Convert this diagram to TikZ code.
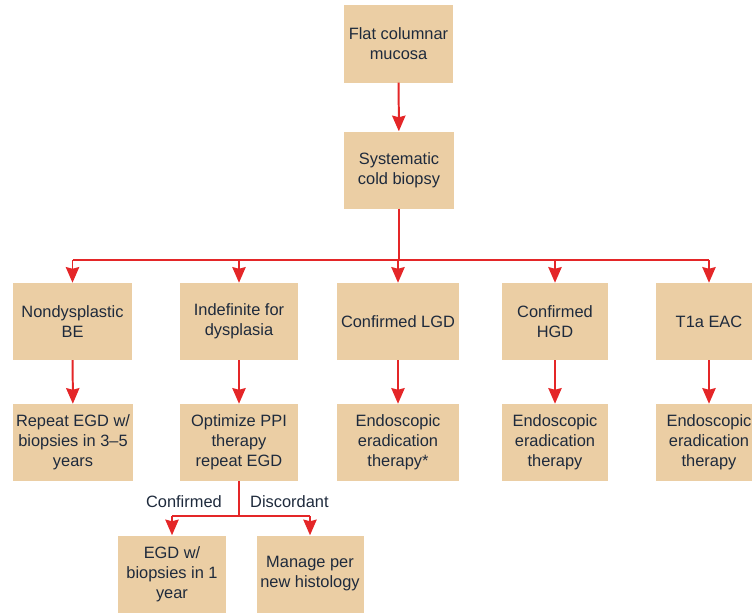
\documentclass[tikz,border=0pt]{standalone}
\usepackage{fontspec}
\setmainfont{Liberation Sans}
\usetikzlibrary{arrows.meta}
\definecolor{boxtan}{RGB}{235,206,164}
\definecolor{flowred}{RGB}{228,38,40}
\definecolor{txtnavy}{RGB}{30,42,60}

\begin{document}
\begin{tikzpicture}[x=0.03cm,y=-0.03cm,
    box/.style={fill=boxtan,text=txtnavy,align=center,inner sep=0pt,
        font=\fontsize{14}{17}\selectfont,minimum height=2.31cm,minimum width=#1},
    box/.default=3.57cm,
    lbl/.style={text=txtnavy,font=\fontsize{14}{17}\selectfont,inner sep=0pt},
    wire/.style={draw=flowred,line width=1.7pt},
    flow/.style={wire,-{Stealth[width=0.4cm,length=0.47cm,inset=0.05cm]}}]
    \clip (0,0) rectangle (752,614);
    % top of the tree
    \node[box=3.27cm] (flat) at (398.5,44) {Flat columnar\\mucosa};
    \node[box=3.30cm] (syst) at (399,170) {Systematic\\cold biopsy};
    % first row
    \node[box] (nond) at (72.5,321.5) {Nondysplastic\\BE};
    \node[box=3.54cm] (indef) at (239,321.5) {Indefinite for\\dysplasia};
    \node[box=3.66cm] (lgd) at (398,321.5) {Confirmed LGD};
    \node[box=3.18cm] (hgd) at (555,321.5) {Confirmed\\HGD};
    \node[box=3.18cm] (eac) at (709,321.5) {T1a EAC};
    % second row
    \node[box=3.60cm] (repeat) at (73,442.5) {Repeat EGD w/\\biopsies in 3--5\\years};
    \node[box=3.54cm] (ppi) at (239,442.5) {Optimize PPI\\therapy\\repeat EGD};
    \node[box=3.66cm] (eraL) at (398,442.5) {Endoscopic\\eradication\\therapy*};
    \node[box=3.18cm] (eraH) at (555,442.5) {Endoscopic\\eradication\\therapy};
    \node[box=3.18cm] (eraT) at (709,442.5) {Endoscopic\\eradication\\therapy};
    % third row
    \node[box=3.21cm] (yearly) at (172,574) {EGD w/\\biopsies in 1\\year};
    \node[box=3.21cm] (manage) at (310,574) {Manage per\\new histology};
    \node[lbl,anchor=east] (conf) at (222,502) {Confirmed};
    \node[lbl,anchor=west] (disc) at (250,502) {Discordant};
    % connectors
    \coordinate (bus) at (399,260);
    \coordinate (split) at (239,516);
    \draw[flow] (flat) -- (syst);
    \draw[wire] (syst.south) -- (bus);
    \draw[wire] (nond.north |- bus) -- (eac.north |- bus);
    \foreach \n in {nond,indef,lgd,hgd,eac}
        \draw[flow] (\n.north |- bus) -- (\n.north);
    \draw[flow] (nond) -- (repeat);
    \draw[flow] (indef) -- (ppi);
    \draw[flow] (lgd) -- (eraL);
    \draw[flow] (hgd) -- (eraH);
    \draw[flow] (eac) -- (eraT);
    \draw[wire] (ppi.south) -- (split);
    \draw[wire] (yearly.north |- split) -- (manage.north |- split);
    \draw[flow] (yearly.north |- split) -- (yearly.north);
    \draw[flow] (manage.north |- split) -- (manage.north);
\end{tikzpicture}
\end{document}
